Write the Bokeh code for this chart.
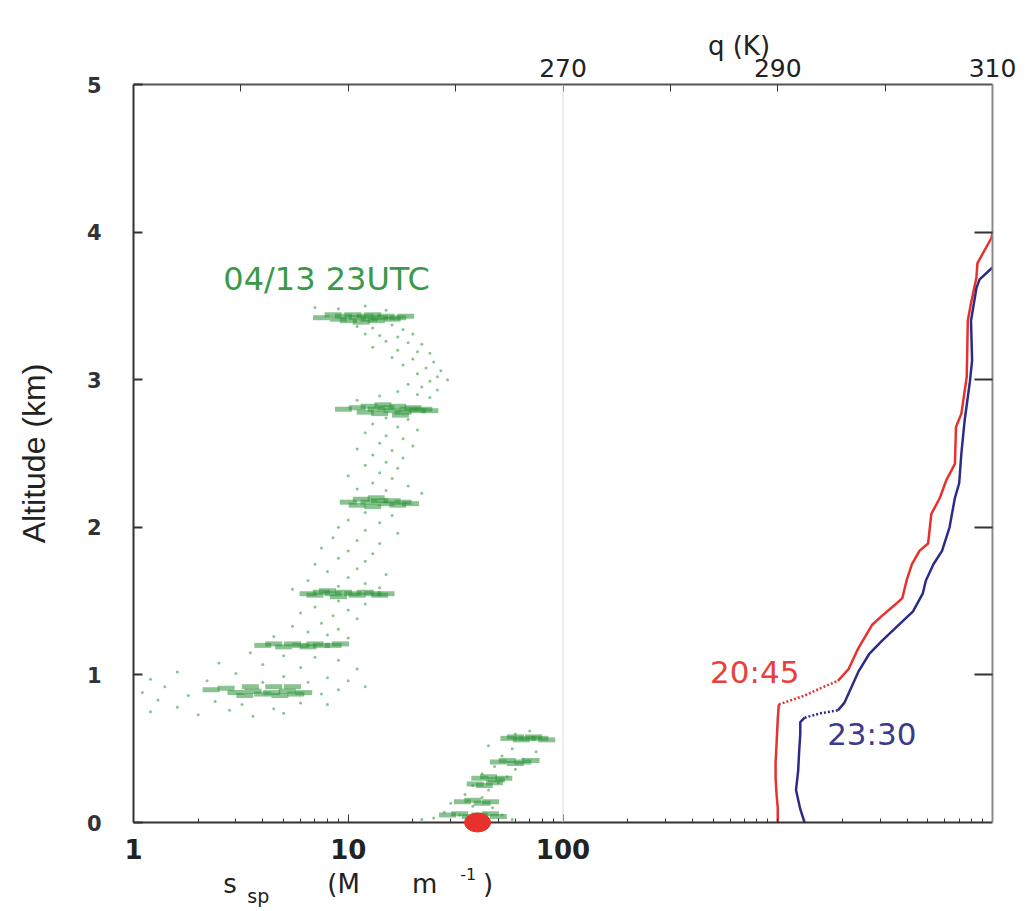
from bokeh.plotting import figure
from bokeh.models import (Range1d, LinearAxis, LinearScale, FixedTicker, Span,
                          BasicTickFormatter)
from bokeh.core.properties import value
from bokeh.embed import file_html
from bokeh.resources import INLINE

# ---------------- data ----------------
ALT_TICKS = [0, 1, 2, 3, 4, 5]
ALT_RIGHT_TICKS = [1, 2, 3, 4]
SSP_TICKS = [1, 10, 100]
SSP_MINOR = [2, 3, 4, 5, 6, 7, 8, 9, 20, 30, 40, 50, 60, 70, 80, 90,
             200, 300, 400, 500, 600, 700, 800, 900, 1000,
             2000, 3000, 4000, 5000, 6000, 7000, 8000, 9000]
THETA_LABELED = [270, 290, 310]
THETA_MINOR = [240, 250, 260, 280, 300]

# sparse lidar scatter (sigma_sp, altitude km)
ssp_sparse = [7, 9, 12, 15,
              11, 13, 16, 18, 12, 14, 17, 20, 15, 19, 22, 13, 17, 21, 24, 16, 20, 25, 18, 23, 27, 21, 26, 24, 29,
              19, 22, 26, 17, 21, 14, 24, 11,
              15, 19, 13, 17, 21, 12, 15, 18, 14, 20, 11, 16, 13, 18, 15, 12, 17, 14, 10, 16, 13, 19, 11, 15, 22,
              12, 16, 10, 14, 9, 12, 17, 8.5, 11, 14, 7.5, 10, 13, 9, 12, 7, 11, 8, 15, 10, 6.5, 12, 9, 14, 5.5,
              9, 12, 7, 10, 6, 8.5, 11, 7.5, 5.5, 9, 6.5, 8, 4.5, 10,
              3.5, 5, 7, 9, 2.5, 4, 6, 11, 1.6, 3, 5, 8, 1.2, 2.2, 4, 6.5, 10, 1.4, 9, 12, 1.1, 1.8, 7.5,
              1.3, 2.4, 3.2, 6, 8, 1.6, 2.8, 4.5, 2, 3.6, 5, 1.2,
              70, 60, 45, 58, 75, 52, 65, 48, 60, 42, 55, 50, 38, 45, 35, 42, 30, 38, 47, 28, 33, 52, 25, 58, 22]
alt_sparse = [3.49, 3.48, 3.50, 3.47,
              3.36, 3.35, 3.37, 3.34, 3.31, 3.30, 3.29, 3.31, 3.26, 3.25, 3.24, 3.22, 3.20, 3.19, 3.18, 3.15, 3.14,
              3.12, 3.10, 3.08, 3.06, 3.04, 3.02, 2.99, 3.00,
              2.97, 2.95, 2.93, 2.92, 2.90, 2.89, 2.88, 2.86,
              2.74, 2.73, 2.70, 2.68, 2.66, 2.64, 2.62, 2.60, 2.57, 2.55, 2.53, 2.52, 2.49, 2.47, 2.44, 2.42, 2.40,
              2.37, 2.35, 2.33, 2.30, 2.28, 2.26, 2.25, 2.23,
              2.10, 2.08, 2.05, 2.03, 2.00, 1.98, 1.96, 1.93, 1.91, 1.89, 1.86, 1.84, 1.82, 1.79, 1.77, 1.75, 1.72,
              1.70, 1.68, 1.66, 1.64, 1.62, 1.60, 1.59, 1.58,
              1.50, 1.48, 1.46, 1.44, 1.42, 1.40, 1.38, 1.35, 1.33, 1.31, 1.29, 1.27, 1.26, 1.25,
              1.15, 1.13, 1.12, 1.10, 1.08, 1.07, 1.05, 1.04, 1.02, 1.01, 0.99, 0.98, 0.97, 0.96, 0.95, 0.95, 0.96,
              0.92, 0.90, 0.92, 0.88, 0.86, 0.87,
              0.83, 0.82, 0.80, 0.81, 0.80, 0.78, 0.76, 0.77, 0.73, 0.72, 0.74, 0.75,
              0.62, 0.60, 0.52, 0.50, 0.48, 0.45, 0.43, 0.38, 0.36, 0.33, 0.31, 0.27, 0.25, 0.22, 0.19, 0.17, 0.13,
              0.11, 0.10, 0.07, 0.05, 0.05, 0.03, 0.02, 0.02]

# dense aerosol layers (sigma_sp, altitude km)
ssp_band = [7.5, 8.5, 9, 9.5, 10, 10.5, 11, 11.5, 12, 12.5, 13, 13.5, 14, 15, 16, 17, 18.5,
            9.5, 11, 12, 12.5, 13.5, 14, 15, 16, 17, 18, 19, 20, 21, 22.5, 24, 14.5, 17.5,
            10, 11, 11.5, 12.5, 13, 14, 15, 16, 17, 18, 19.5, 13.5,
            6.5, 7, 7.5, 8.5, 9, 9.5, 10.5, 11, 12, 13, 14, 15, 8,
            4, 4.5, 5, 5.5, 6, 6.5, 7, 7.5, 8.5, 9.2,
            2.3, 2.7, 3, 3.3, 3.6, 4, 4.4, 4.8, 5.2, 5.7, 6.2, 3.5, 4.5, 5.5,
            56, 60, 64, 68, 73, 78, 84,
            50, 55, 60, 65, 71,
            41, 45, 49, 53, 39, 43, 48,
            34, 38, 42, 46, 29, 33, 37, 41, 46, 50]
alt_band = [3.42, 3.44, 3.41, 3.43, 3.40, 3.44, 3.42, 3.39, 3.43, 3.41, 3.44, 3.40, 3.42, 3.43, 3.41, 3.42, 3.43,
            2.80, 2.81, 2.78, 2.82, 2.80, 2.77, 2.81, 2.79, 2.82, 2.78, 2.80, 2.81, 2.79, 2.80, 2.79, 2.83, 2.76,
            2.17, 2.15, 2.19, 2.17, 2.14, 2.18, 2.16, 2.18, 2.15, 2.17, 2.16, 2.20,
            1.55, 1.54, 1.56, 1.55, 1.53, 1.56, 1.55, 1.54, 1.56, 1.55, 1.54, 1.55, 1.57,
            1.20, 1.21, 1.19, 1.21, 1.20, 1.19, 1.21, 1.20, 1.20, 1.21,
            0.90, 0.91, 0.88, 0.86, 0.89, 0.87, 0.88, 0.86, 0.89, 0.87, 0.88, 0.92, 0.92, 0.92,
            0.57, 0.58, 0.56, 0.57, 0.58, 0.57, 0.56,
            0.41, 0.42, 0.40, 0.41, 0.42,
            0.30, 0.31, 0.29, 0.30, 0.26, 0.25, 0.27,
            0.14, 0.15, 0.13, 0.14, 0.05, 0.06, 0.04, 0.05, 0.06, 0.04]

# surface in-situ value
ssp_surface = [40]
alt_surface = [0.0]

# potential temperature profiles
red_alt = [0.00, 0.10, 0.18, 0.30, 0.41, 0.55, 0.70, 0.80, 0.86, 0.91, 0.96,
           1.04, 1.18, 1.34, 1.40, 1.48, 1.52, 1.64, 1.75, 1.84, 1.89,
           2.09, 2.20, 2.32, 2.43, 2.68, 2.77, 3.02, 3.40, 3.52, 3.69,
           3.79, 3.96, 4.00]
red_theta = [290.0, 290.0, 289.9, 289.8, 289.8, 289.9, 290.0, 290.1, 292.5, 294.0, 295.6,
             296.6, 297.5, 298.8, 299.7, 301.0, 301.6, 302.0, 302.5, 303.2, 304.0,
             304.3, 305.1, 305.7, 306.5, 306.6, 307.1, 307.6, 307.7, 308.0, 308.5,
             308.6, 309.9, 310.0]
RED_DOTTED = (7, 10)

blue_alt = [0.00, 0.09, 0.22, 0.35, 0.49, 0.60, 0.68, 0.71, 0.74, 0.76,
            0.81, 1.02, 1.14, 1.23, 1.32, 1.43, 1.55, 1.64, 1.75, 1.84,
            2.00, 2.20, 2.30, 2.50, 2.72, 2.99, 3.13, 3.40, 3.62, 3.68, 3.76]
blue_theta = [292.5, 292.1, 291.7, 291.9, 292.0, 292.1, 292.1, 292.5, 294.0, 295.6,
              296.2, 297.5, 298.5, 299.7, 301.0, 302.6, 303.5, 303.8, 304.5, 305.3,
              306.0, 306.5, 306.9, 307.1, 307.4, 307.9, 308.1, 308.0, 308.5, 308.8, 310.0]
BLUE_DOTTED = (7, 9)

GREEN = "#2a9236"
RED = "#e8302c"
BLUE = "#2c2b8a"
AX = "#333333"
FONT = "DejaVu Sans"

# ---------------- figure ----------------
p = figure(width=1030, height=910, x_axis_type="log",
           x_range=Range1d(1, 10000), y_range=Range1d(0, 5),
           output_backend="svg", toolbar_location=None,
           min_border_left=133, min_border_right=38,
           min_border_top=84, min_border_bottom=88)
p.xgrid.visible = False
p.ygrid.visible = False
p.outline_line_color = None
p.background_fill_color = "white"
p.border_fill_color = "white"

p.extra_x_ranges = {"theta": Range1d(230, 310)}
p.extra_x_scales = {"theta": LinearScale()}

# bottom log axis
xa = p.xaxis[0]
xa.ticker = FixedTicker(ticks=SSP_TICKS, minor_ticks=SSP_MINOR)
xa.formatter = BasicTickFormatter(use_scientific=False)
xa.major_tick_in = 8
xa.major_tick_out = 0
xa.minor_tick_in = 4
xa.minor_tick_out = 0
xa.axis_line_width = 2
xa.axis_line_color = AX
xa.major_tick_line_color = AX
xa.minor_tick_line_color = AX
xa.major_label_text_font = FONT
xa.major_label_text_font_size = "26px"
xa.major_label_text_font_style = "bold"
xa.major_label_text_color = "#222222"
xa.major_label_standoff = 16

# left altitude axis
ya = p.yaxis[0]
ya.ticker = FixedTicker(ticks=ALT_TICKS)
ya.minor_tick_line_color = None
ya.major_tick_in = 9
ya.major_tick_out = 0
ya.axis_line_width = 2
ya.axis_line_color = AX
ya.major_tick_line_color = AX
ya.major_tick_line_width = 2
ya.major_label_text_font = FONT
ya.major_label_text_font_size = "21px"
ya.major_label_text_font_style = "bold"
ya.major_label_text_color = "#333333"
ya.major_label_standoff = 32
ya.axis_label = "Altitude (km)"
ya.axis_label_text_font = "Liberation Sans"
ya.axis_label_text_font_size = "32px"
ya.axis_label_text_font_style = "normal"
ya.axis_label_text_color = "#222222"
ya.axis_label_standoff = 32

# top theta axis
ta = LinearAxis(x_range_name="theta",
                ticker=FixedTicker(ticks=THETA_LABELED, minor_ticks=THETA_MINOR),
                major_tick_in=7, major_tick_out=0, minor_tick_in=7, minor_tick_out=0,
                axis_line_width=2, axis_line_color="#555555",
                major_tick_line_color=AX, minor_tick_line_color=AX,
                major_label_text_font=FONT, major_label_text_font_size="25px",
                major_label_text_color="#222222", major_label_standoff=8)
p.add_layout(ta, "above")

# right axis (ticks only)
ra = LinearAxis(ticker=FixedTicker(ticks=ALT_RIGHT_TICKS),
                major_tick_in=18, major_tick_out=0, minor_tick_line_color=None,
                axis_line_width=2, axis_line_color="#8a8a8a",
                major_tick_line_color=AX, major_tick_line_width=2,
                major_label_text_alpha=0, major_label_text_font_size="8px",
                major_label_standoff=0)
p.add_layout(ra, "right")

# vertical divider at sigma = 100
p.add_layout(Span(location=100, dimension="height", line_color="#dcdcdc", line_width=1))

# lidar scatter
p.scatter(ssp_sparse, alt_sparse, size=3, color=GREEN, alpha=0.55, line_width=0)
p.scatter(ssp_band, alt_band, marker="dash", size=17, line_width=5,
          line_color=GREEN, line_alpha=0.55)

# surface value
p.ellipse(ssp_surface, alt_surface, width=26, height=19, width_units="screen",
          height_units="screen", fill_color=RED, line_color=RED, level="overlay")


# theta profiles
def draw_profile(theta, alt, dotted, color):
    a, b = dotted
    p.line(theta[:a + 1], alt[:a + 1], x_range_name="theta", line_color=color, line_width=2.5)
    p.line(theta[a:b + 1], alt[a:b + 1], x_range_name="theta", line_color=color,
           line_width=2.5, line_dash="2 2")
    p.line(theta[b:], alt[b:], x_range_name="theta", line_color=color, line_width=2.5)


draw_profile(red_theta, red_alt, RED_DOTTED, RED)
draw_profile(blue_theta, blue_alt, BLUE_DOTTED, BLUE)


# ---------------- texts (glyphs on overlay level so they are not clipped) ----------------
def label(x, y, text, size, color="#222222", rng="default"):
    p.text(x=[x], y=[y], text=[text], x_range_name=rng, text_font=value(FONT),
           text_font_size=value(size), text_color=color,
           text_baseline="alphabetic", text_align="left", level="overlay")


label(2.62, 3.68, "04/13 23UTC", "32px", "#3a9a48")
label(283.7, 1.02, "20:45", "31px", "#e8403a", "theta")
label(294.6, 0.60, "23:30", "31px", "#3b3a8c", "theta")
label(283.5, 5.26, "q (K)", "26px", "#222222", "theta")

# bottom axis title pieces
label(2.62, -0.414, "s", "26px")
label(3.39, -0.496, "sp", "19px")
label(7.99, -0.414, "(M", "26px")
label(19.8, -0.414, "m", "26px")
label(33.2, -0.347, "-1", "16px")
label(42.4, -0.414, ")", "26px")

open("out.html", "w").write(file_html(p, INLINE))
